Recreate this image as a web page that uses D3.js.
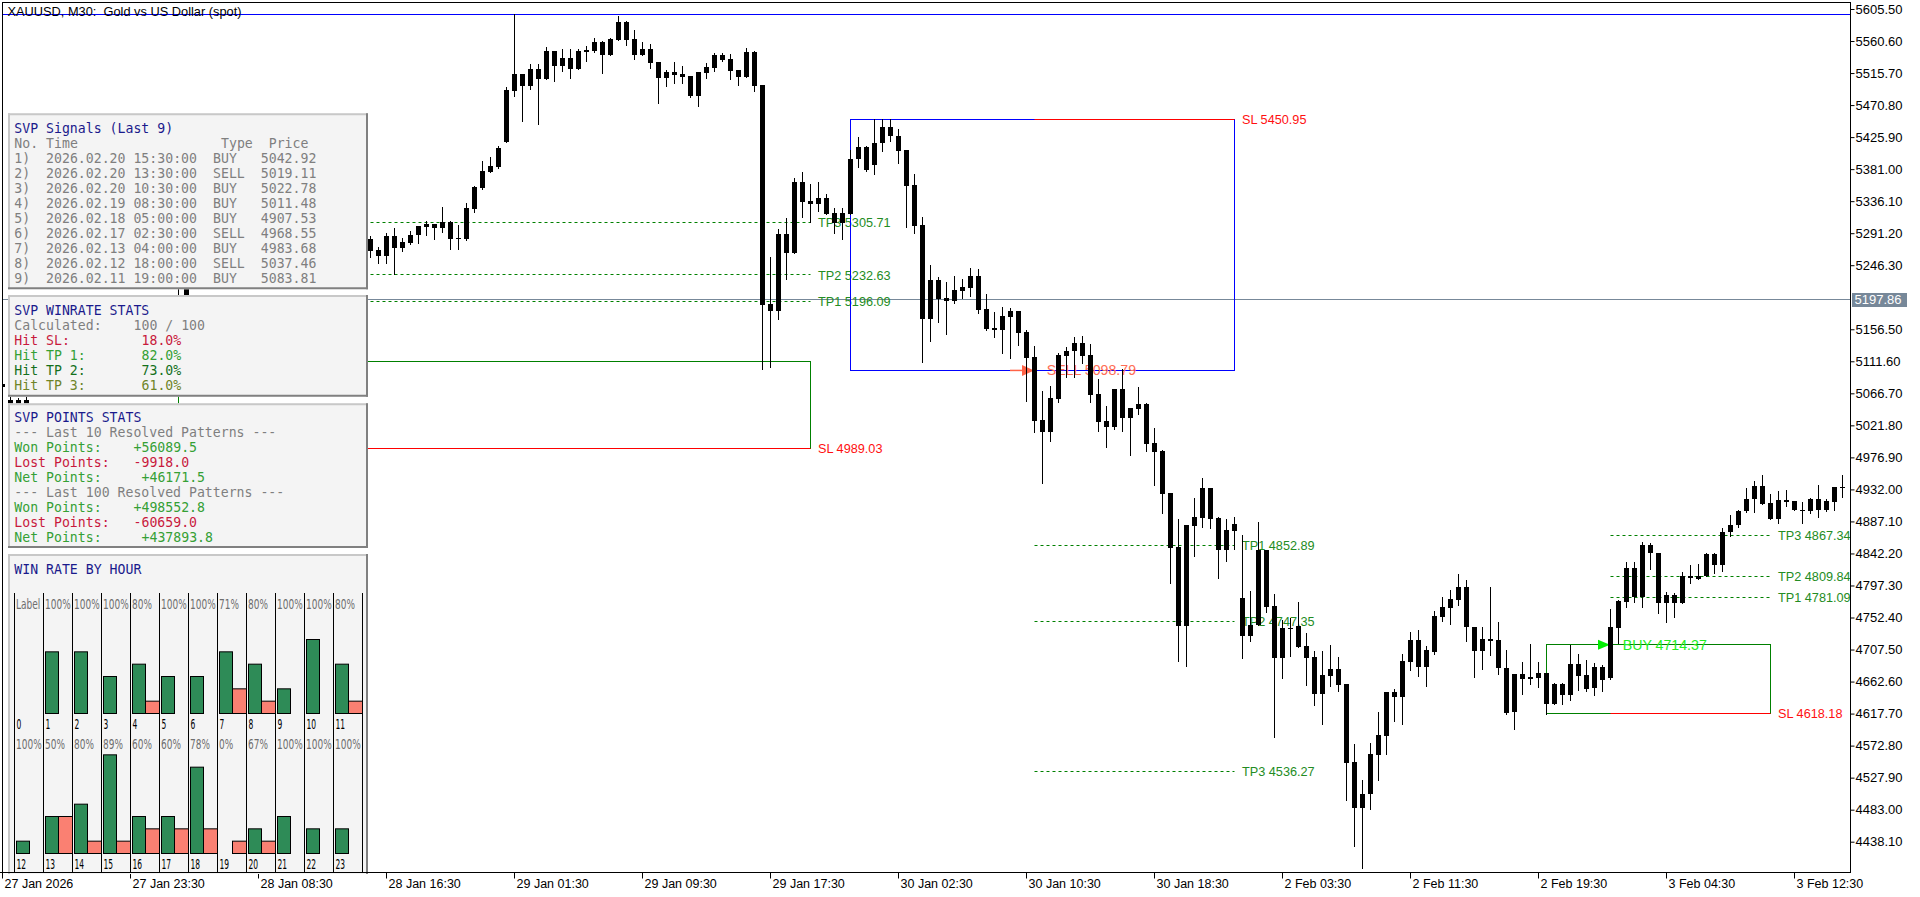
<!DOCTYPE html>
<html><head><meta charset="utf-8">
<script src="https://cdn.jsdelivr.net/npm/d3@7"></script>
<style>html,body{margin:0;padding:0;background:#fff;overflow:hidden}</style>
</head><body><svg id="c" width="1920" height="897" xmlns="http://www.w3.org/2000/svg"></svg>
<script>
// ---------------- DATA ----------------
const open=[5080,5058,5048,5058,5085,5096,5105,5112,5100,5110,
5126,5135,5142,5130,5140,5155,5165,5158,5168,5180,
5186,5190,5197,5205,5218,5230,5240,5236,5246,5258,
5252,5244,5254,5268,5262,5272,5284,5276,5268,5278,
5290,5282,5272,5280,5288,5276,5283.1,5267.6,5259.6,5287.3,
5270.0,5277.9,5288.2,5300.3,5304.1,5298.9,5306.5,5283.5,5283.1,5325.1,
5355.0,5377.4,5384.4,5419.5,5491.0,5514.4,5498.0,5521.4,5507.8,5546.6,
5526.0,5536.8,5521.0,5545.6,5546.6,5559.2,5541.4,5562.5,5587.3,5563.4,
5541.4,5549.0,5531.2,5509.2,5517.2,5514.4,5511.6,5483.5,5516.2,5522.8,
5541.0,5535.4,5520.0,5510.6,5545.2,5499.0,5191.9,5182.5,5290.1,5263.8,
5363.0,5336.3,5331.7,5340.5,5319.5,5305.9,5318.5,5395.2,5412.0,5386.4,
5417.2,5440.1,5427.5,5407.8,5358.8,5302.7,5171.3,5225.6,5200.3,5196.6,
5210.6,5214.8,5231.2,5184.9,5157.9,5155.9,5174.1,5182.1,5152.7,5118.0,
5029.7,5012.9,5059.2,5119.4,5126.0,5137.7,5120.4,5066.2,5028.3,5019.9,
5073.2,5032.5,5045.1,5051.7,4997.5,4986.3,4927.4,4851.7,4740.9,4881.1,
4892.3,4934.0,4891.9,4847.5,4874.1,4779.8,4726.9,4742.3,4847.5,4768.5,
4696.1,4738.1,4740.9,4712.9,4697.5,4645.6,4670.8,4680.6,4659.6,4550.3,
4485.8,4505.4,4560.1,4586.7,4648.4,4641.4,4690.4,4721.3,4683.4,4704.5,
4753.5,4766.2,4777.4,4795.6,4739.5,4705.9,4721.9,4721.3,4681.2,4619.9,
4672.8,4666.6,4668.0,4674.2,4631.6,4658.8,4644.2,4686.8,4671.4,4654.0,
4682.6,4668.0,4738.1,4773.7,4821.4,4780.7,4853.6,4842.4,4773.2,4783.5,
4773.2,4807.4,4810.2,4810.2,4841.0,4825.6,4871.9,4881.7,4901.3,4918.1,
4936.4,4912.5,4890.9,4916.7,4915.3,4902.7,4901.3,4918.1,4902.7,4913.9,
4934.9];
const high=[5086,5061,5060,5062,5100,5110,5118,5120,5115,5130,
5140,5148,5150,5145,5160,5170,5175,5172,5185,5192,
5198,5200,5215,5222,5235,5245,5252,5250,5262,5270,
5265,5258,5272,5280,5276,5290,5296,5288,5282,5294,
5302,5292,5286,5296,5298,5290,5287.3,5272.3,5291.0,5298.1,
5284.0,5294.3,5300.9,5308.7,5304.1,5327.5,5308.7,5302.3,5333.1,5357.4,
5392.0,5398.0,5413.4,5495.7,5598.0,5514.4,5528.4,5528.4,5552.2,5546.6,
5549.8,5549.0,5549.0,5553.6,5564.8,5561.1,5564.8,5595.7,5588.3,5576.1,
5559.2,5556.4,5531.2,5520.0,5531.2,5525.6,5511.6,5517.2,5529.8,5543.8,
5543.8,5542.4,5520.0,5550.8,5546.6,5499.0,5257.4,5297.1,5312.5,5368.6,
5377.0,5360.2,5363.0,5346.1,5326.5,5326.5,5407.8,5426.1,5413.4,5451.3,
5451.3,5451.3,5437.3,5407.8,5374.2,5313.9,5246.6,5229.8,5222.8,5231.2,
5227.0,5242.4,5241.0,5205.9,5180.7,5187.7,5186.3,5182.1,5155.5,5133.0,
5070.4,5077.4,5123.2,5131.6,5145.7,5147.1,5135.9,5087.2,5049.3,5073.2,
5101.2,5046.5,5075.6,5053.6,5018.5,4987.7,4927.4,4890.5,4882.1,4919.9,
4948.0,4934.0,4893.3,4890.5,4893.3,4868.1,4789.6,4886.3,4847.5,4785.4,
4748.9,4752.1,4774.1,4731.1,4705.9,4705.9,4713.4,4697.5,4659.6,4575.5,
4525.0,4576.9,4620.3,4648.4,4652.6,4701.7,4732.5,4735.3,4712.9,4761.9,
4781.6,4791.4,4813.4,4805.4,4739.5,4739.5,4795.6,4746.5,4706.9,4672.8,
4690.4,4715.7,4690.4,4674.2,4661.0,4661.0,4714.3,4701.7,4693.3,4689.0,
4686.2,4764.3,4776.5,4829.8,4829.8,4857.8,4856.4,4842.4,4787.7,4786.3,
4815.8,4825.6,4827.0,4842.4,4842.4,4877.5,4895.7,4902.7,4933.5,4943.4,
4952.6,4925.1,4929.3,4930.7,4915.3,4913.9,4919.5,4937.8,4918.1,4934.9,
4952.6];
const low=[5070,5040,5035,5045,5080,5090,5098,5095,5092,5105,
5118,5128,5125,5122,5136,5148,5150,5152,5160,5172,
5175,5178,5185,5200,5218,5222,5230,5228,5240,5248,
5238,5236,5250,5258,5252,5266,5270,5262,5256,5272,
5276,5266,5262,5274,5270,5262,5257.8,5249.0,5249.8,5233.6,
5266.6,5275.6,5277.0,5289.1,5282.6,5293.3,5268.6,5268.6,5281.7,5321.3,
5353.6,5377.4,5382.2,5419.5,5484.0,5448.9,5492.9,5444.3,5507.8,5505.0,
5519.0,5508.8,5521.0,5533.0,5544.8,5516.2,5541.4,5562.5,5555.5,5535.4,
5541.4,5523.2,5474.1,5497.6,5502.2,5502.2,5482.1,5469.5,5509.2,5518.6,
5533.0,5507.4,5499.0,5510.6,5491.0,5100.4,5104.0,5171.3,5227.4,5263.8,
5314.3,5306.9,5322.7,5318.5,5291.0,5282.6,5318.5,5383.6,5378.8,5373.8,
5406.8,5420.0,5390.0,5300.3,5291.0,5111.0,5140.5,5166.7,5150.3,5193.8,
5200.7,5203.1,5179.7,5155.9,5146.1,5123.6,5116.6,5134.0,5056.4,5012.9,
4940.6,5000.3,5055.0,5090.0,5090.0,5109.6,5055.0,5014.3,4991.9,5017.1,
5014.3,4980.7,5038.1,4986.3,4938.6,4899.3,4801.2,4691.8,4684.8,4839.1,
4879.7,4878.3,4808.2,4832.0,4848.9,4696.1,4719.9,4742.3,4760.5,4585.3,
4668.0,4698.9,4711.5,4658.2,4630.2,4603.5,4656.8,4649.8,4497.0,4432.5,
4401.6,4484.4,4525.0,4561.5,4607.7,4603.5,4679.2,4670.8,4656.8,4701.7,
4747.9,4743.7,4770.4,4719.9,4669.4,4680.6,4700.3,4673.6,4617.5,4596.5,
4645.6,4659.6,4655.4,4617.5,4631.6,4631.6,4637.2,4651.2,4649.8,4644.2,
4649.8,4666.6,4716.2,4766.7,4773.7,4766.7,4820.0,4758.3,4746.5,4752.7,
4773.2,4801.2,4806.0,4810.2,4814.4,4817.2,4866.3,4878.9,4899.9,4899.9,
4911.1,4890.9,4884.5,4908.3,4902.7,4884.5,4898.5,4892.9,4901.3,4902.7,
4920.9];
const close=[5076,5048,5058,5050,5096,5105,5112,5100,5110,5126,
5135,5142,5130,5140,5155,5165,5158,5168,5180,5186,
5190,5185,5192,5215,5230,5240,5236,5246,5258,5252,
5244,5254,5268,5262,5272,5284,5276,5268,5278,5290,
5282,5272,5280,5288,5276,5283,5266.6,5259.6,5287.3,5270.0,
5278.4,5288.7,5300.9,5304.1,5298.5,5306.5,5283.5,5284.5,5326.1,5356.0,
5378.4,5385.4,5410.6,5491.9,5514.4,5498.0,5521.4,5507.8,5546.6,5526.0,
5536.8,5521.8,5546.6,5548.0,5559.2,5541.4,5563.4,5587.3,5562.5,5541.4,
5549.0,5530.2,5509.2,5517.2,5513.4,5510.6,5483.5,5517.2,5524.2,5541.0,
5534.4,5519.0,5510.6,5545.2,5497.6,5190.5,5182.5,5290.1,5263.8,5363.0,
5335.3,5331.7,5340.5,5318.5,5305.9,5319.5,5395.2,5412.0,5379.8,5417.6,
5440.1,5427.0,5406.8,5357.8,5301.7,5171.3,5225.6,5199.4,5196.6,5211.6,
5215.8,5231.2,5183.9,5157.3,5155.9,5175.1,5182.1,5151.7,5116.6,5028.3,
5012.9,5060.1,5120.4,5126.0,5137.7,5119.4,5064.8,5026.9,5019.9,5073.2,
5032.5,5046.5,5051.7,4996.1,4984.9,4926.0,4850.3,4740.9,4882.1,4893.3,
4934.0,4890.9,4847.5,4875.1,4883.5,4726.9,4741.9,4847.5,4767.6,4696.1,
4738.1,4736.7,4711.5,4696.1,4645.6,4672.2,4680.6,4658.2,4548.9,4485.8,
4505.4,4561.5,4588.1,4648.4,4641.4,4691.8,4721.3,4683.4,4707.3,4754.9,
4767.6,4778.8,4795.6,4739.5,4705.9,4721.9,4719.9,4682.0,4618.9,4672.8,
4666.6,4668.6,4674.2,4631.6,4658.8,4644.2,4686.8,4670.8,4652.6,4682.6,
4665.2,4738.7,4775.1,4821.4,4780.7,4853.6,4842.4,4773.2,4783.5,4773.2,
4810.2,4810.2,4806.0,4841.0,4825.6,4871.9,4881.7,4901.7,4918.1,4936.4,
4911.1,4890.9,4916.7,4914.8,4902.7,4901.3,4918.1,4902.7,4915.3,4934.9,
4933.5];

const priceTicks=[5605.50,5560.60,5515.70,5470.80,5425.90,5381.00,5336.10,5291.20,5246.30,
5156.50,5111.60,5066.70,5021.80,4976.90,4932.00,4887.10,4842.20,4797.30,4752.40,4707.50,
4662.60,4617.70,4572.80,4527.90,4483.00,4438.10];
const timeTickBars=[0,16,32,48,64,80,96,112,128,144,160,176,192,208,224];
const timeLabels=["27 Jan 2026","27 Jan 23:30","28 Jan 08:30","28 Jan 16:30","29 Jan 01:30",
"29 Jan 09:30","29 Jan 17:30","30 Jan 02:30","30 Jan 10:30","30 Jan 18:30","2 Feb 03:30",
"2 Feb 11:30","2 Feb 19:30","3 Feb 04:30","3 Feb 12:30"];
const highLinePrice=5598.0;
const bidPrice=5197.86;

// signals drawn on chart
const sigType=["BUY","SELL","BUY"];
const sigBoxStart=[22,106,193];
const sigEntryBar=[22,129,201];
const sigEndBar=[101,154,221];
const sigEntry=[5112.00,5098.79,4714.37];
const sigSL=[4989.03,5450.95,4618.18];
const sigTP1=[5196.09,4852.89,4781.09];
const sigTP2=[5232.63,4747.35,4809.84];
const sigTP3=[5305.71,4536.27,4867.34];
const sigBoxColor=["#008000","#0000ff","#008000"];

// panel: signals list
const listNo=["1)","2)","3)","4)","5)","6)","7)","8)","9)"];
const listTime=["2026.02.20 15:30:00","2026.02.20 13:30:00","2026.02.20 10:30:00","2026.02.19 08:30:00",
"2026.02.18 05:00:00","2026.02.17 02:30:00","2026.02.13 04:00:00","2026.02.12 18:00:00","2026.02.11 19:00:00"];
const listType=["BUY","SELL","BUY","BUY","BUY","SELL","BUY","SELL","BUY"];
const listPrice=["5042.92","5019.11","5022.78","5011.48","4907.53","4968.55","4983.68","5037.46","5083.81"];

// panel: winrate
const wrLabels=["Calculated:","Hit SL:","Hit TP 1:","Hit TP 2:","Hit TP 3:"];
const wrValues=["100 / 100","18.0%","82.0%","73.0%","61.0%"];
const wrCol=[15,16,16,16,16];
const wrColors=["#7f7f7f","#c8193c","#35a035","#14701c","#6f8428"];

// panel: points
const ptLabels=["--- Last 10 Resolved Patterns ---","Won Points:","Lost Points:","Net Points:",
"--- Last 100 Resolved Patterns ---","Won Points:","Lost Points:","Net Points:"];
const ptValues=["","+56089.5","-9918.0","+46171.5","","+498552.8","-60659.0","+437893.8"];
const ptCol=[0,15,15,16,0,15,15,16];
const ptColors=["#7f7f7f","#35a035","#c8193c","#35a035","#7f7f7f","#35a035","#c8193c","#35a035"];

// panel: win rate by hour
const hours=d3.range(24);
const hourWins=[0,5,5,3,4,3,3,5,4,2,6,4, 1,3,4,8,3,3,7,0,2,3,2,2];
const hourLosses=[0,0,0,0,1,0,0,2,1,0,0,1, 0,3,1,1,2,2,2,1,1,0,0,0];
const hourPct=["Label","100%","100%","100%","80%","100%","100%","71%","80%","100%","100%","80%",
"100%","50%","80%","89%","60%","60%","78%","0%","67%","100%","100%","100%"];

// ---------------- DRAW ----------------
const svg=d3.select("#c");
svg.append("rect").attr("width",1920).attr("height",897).attr("fill","#fff");
const plot={l:2.5,t:2.5,r:1850.5,b:872.5};
const x=d3.scaleLinear().domain([0,230]).range([2,1842]);
const y=d3.scaleLinear().domain([4438.1,5605.5]).range([841.7,9]);
const px=i=>Math.round(x(i));
const ly=v=>Math.round(y(v)-0.5)+0.5;
const SANS="Liberation Sans, Arial, sans-serif";
const MONO="DejaVu Sans Mono, monospace";

svg.append("defs").append("clipPath").attr("id","pc").append("rect")
  .attr("x",plot.l).attr("y",plot.t).attr("width",plot.r-plot.l).attr("height",plot.b-plot.t);
const gMain=svg.append("g").attr("clip-path","url(#pc)");

// horizontal lines
gMain.append("line").attr("x1",plot.l).attr("x2",plot.r).attr("y1",ly(highLinePrice)).attr("y2",ly(highLinePrice))
  .attr("stroke","#0000ff").attr("stroke-width",1);
gMain.append("line").attr("x1",plot.l).attr("x2",plot.r).attr("y1",ly(bidPrice)).attr("y2",ly(bidPrice))
  .attr("stroke","#778899").attr("stroke-width",1);

// signal objects
const gS=gMain.append("g");
sigType.forEach((t,k)=>{
  const xs=px(sigBoxStart[k])+0.5, xe=px(sigEndBar[k])+0.5, xn=px(sigEntryBar[k])+0.5;
  const yE=ly(sigEntry[k]), yL=ly(sigSL[k]);
  gS.append("rect").attr("x",xs).attr("y",Math.min(yE,yL)).attr("width",xe-xs).attr("height",Math.abs(yE-yL))
    .attr("fill","none").attr("stroke",sigBoxColor[k]).attr("stroke-width",1);
  gS.append("line").attr("x1",xn).attr("x2",xe).attr("y1",yL).attr("y2",yL).attr("stroke","#ff0000");
  gS.append("text").attr("x",xe+7.5).attr("y",y(sigSL[k])+4.6).attr("font-family",SANS).attr("font-size",12.7)
    .attr("fill","#ff1010").text("SL "+sigSL[k].toFixed(2));
  [sigTP1[k],sigTP2[k],sigTP3[k]].forEach((tp,j)=>{
    gS.append("line").attr("x1",xn).attr("x2",xe).attr("y1",ly(tp)).attr("y2",ly(tp))
      .attr("stroke","#008000").attr("stroke-dasharray","3,3");
    gS.append("text").attr("x",xe+7.5).attr("y",y(tp)+4.6).attr("font-family",SANS).attr("font-size",12.7)
      .attr("fill","#238c23").text("TP"+(j+1)+" "+tp.toFixed(2));
  });
  const xt=px(sigEntryBar[k]);
  if(t==="SELL"){
    gS.append("line").attr("x1",xt-24).attr("x2",xt-11).attr("y1",y(sigEntry[k])).attr("y2",y(sigEntry[k]))
      .attr("stroke","#ff6347").attr("stroke-width",1.5);
    gS.append("path").attr("d",`M${xt},${y(sigEntry[k])} L${xt-12},${y(sigEntry[k])-5.5} L${xt-12},${y(sigEntry[k])+5.5} Z`)
      .attr("fill","#ff6347");
    gS.append("text").attr("x",xt+12.7).attr("y",y(sigEntry[k])+5).attr("font-family",SANS).attr("font-size",14.2)
      .attr("fill","#ff6e55").text("SELL "+sigEntry[k].toFixed(2));
  } else {
    gS.append("path").attr("d",`M${xt},${y(sigEntry[k])} L${xt-12},${y(sigEntry[k])-5} L${xt-12},${y(sigEntry[k])+5} Z`)
      .attr("fill","#00ee00");
    gS.append("text").attr("x",xt+12.7).attr("y",y(sigEntry[k])+5).attr("font-family",SANS).attr("font-size",14.2)
      .attr("fill","#22ee22").text("BUY "+sigEntry[k].toFixed(2));
  }
});

// candles
const idx=d3.range(close.length);
const gC=gMain.append("g");
gC.selectAll("line.w").data(idx).join("line").attr("class","w")
  .attr("x1",i=>px(i)+0.5).attr("x2",i=>px(i)+0.5)
  .attr("y1",i=>Math.round(y(high[i]))).attr("y2",i=>Math.round(y(low[i]))+1)
  .attr("stroke","#000").attr("stroke-width",1);
gC.selectAll("rect.b").data(idx).join("rect").attr("class","b")
  .attr("x",i=>px(i)-2).attr("width",5)
  .attr("y",i=>Math.round(y(Math.max(open[i],close[i]))))
  .attr("height",i=>Math.max(1,Math.round(y(Math.min(open[i],close[i])))-Math.round(y(Math.max(open[i],close[i])))))
  .attr("fill","#000");

// frame
svg.append("rect").attr("x",plot.l).attr("y",plot.t).attr("width",plot.r-plot.l).attr("height",plot.b-plot.t)
  .attr("fill","none").attr("stroke","#000").attr("stroke-width",1);

// right axis
const gy=svg.append("g").attr("transform",`translate(${plot.r},0)`)
  .call(d3.axisRight(y).tickValues(priceTicks).tickSize(4).tickPadding(1).tickFormat(d=>d.toFixed(2)));
gy.select(".domain").remove();
gy.selectAll("text").attr("font-family",SANS).attr("font-size",13).attr("fill","#000");
gy.selectAll("line").attr("stroke","#000");

// bottom axis
const gx=svg.append("g").attr("transform",`translate(0,${plot.b})`)
  .call(d3.axisBottom(x).tickValues(timeTickBars).tickSize(6).tickPadding(1).tickFormat((d,i)=>timeLabels[i]));
gx.select(".domain").remove();
gx.selectAll("text").attr("font-family",SANS).attr("font-size",12.5).attr("fill","#000")
  .attr("text-anchor","start").attr("x",2);
gx.selectAll("line").attr("stroke","#000");

// bid label
svg.append("rect").attr("x",plot.r+1.5).attr("y",Math.round(y(bidPrice))-7).attr("width",55).attr("height",14).attr("fill","#778899");
svg.append("text").attr("x",plot.r+4).attr("y",y(bidPrice)+4.7).attr("font-family",SANS).attr("font-size",13)
  .attr("fill","#fff").text(bidPrice.toFixed(2));

// chart title
svg.append("text").attr("x",7.5).attr("y",15.5).attr("font-family",SANS).attr("font-size",12.8)
  .attr("fill","#000").style("white-space","pre").text("XAUUSD, M30:  Gold vs US Dollar (spot)");

// ---------------- PANELS ----------------
const CW=7.95, TX=14.3;
function panel(y0,y1,noBottom){
  const g=svg.append("g");
  g.append("rect").attr("x",8).attr("y",y0).attr("width",360).attr("height",y1-y0).attr("fill","#f4f4f4");
  g.append("line").attr("x1",8).attr("x2",368).attr("y1",y0+1).attr("y2",y0+1).attr("stroke","#c8c8c8").attr("stroke-width",2);
  g.append("line").attr("x1",9).attr("x2",9).attr("y1",y0).attr("y2",y1).attr("stroke","#c8c8c8").attr("stroke-width",2);
  g.append("line").attr("x1",367).attr("x2",367).attr("y1",y0).attr("y2",y1).attr("stroke","#808080").attr("stroke-width",2);
  if(!noBottom) g.append("line").attr("x1",8).attr("x2",368).attr("y1",y1-1).attr("y2",y1-1).attr("stroke","#808080").attr("stroke-width",2);
  return g;
}
function mono(g,col,yb,str,fill){
  g.append("text").attr("x",TX+col*CW).attr("y",yb).attr("font-family",MONO).attr("font-size",13.2)
    .attr("fill",fill).style("white-space","pre").text(str);
}
const NAVY="#1a1a8c", GREY="#7f7f7f";

// panel 1
const p1=panel(113.3,289.3);
mono(p1,0,133,"SVP Signals (Last 9)",NAVY);
mono(p1,0,148,"No.",GREY); mono(p1,4,148,"Time",GREY); mono(p1,26,148,"Type",GREY); mono(p1,32,148,"Price",GREY);
listNo.forEach((n,k)=>{
  const yb=163+15*k;
  mono(p1,0,yb,n,GREY); mono(p1,4,yb,listTime[k],GREY); mono(p1,25,yb,listType[k],GREY); mono(p1,31,yb,listPrice[k],GREY);
});

// panel 2
const p2=panel(295,396.7);
mono(p2,0,314.7,"SVP WINRATE STATS",NAVY);
wrLabels.forEach((l,k)=>{
  const yb=329.7+15*k;
  mono(p2,0,yb,l,wrColors[k]); mono(p2,wrCol[k],yb,wrValues[k],wrColors[k]);
});

// panel 3
const p3=panel(403.3,548);
mono(p3,0,421.7,"SVP POINTS STATS",NAVY);
ptLabels.forEach((l,k)=>{
  const yb=436.8+15*k;
  mono(p3,0,yb,l,ptColors[k]);
  if(ptValues[k]) mono(p3,ptCol[k],yb,ptValues[k],ptColors[k]);
});

// panel 4
const p4=panel(554,874,true);
mono(p4,0,573.7,"WIN RATE BY HOUR",NAVY);
const colX=d3.scaleLinear().domain([0,12]).range([14.5,362.5]);
const barH=d3.scaleLinear().domain([0,9]).range([0,111]);
const rowBase=[713.5,853.5], rowPctY=[609.3,749.3], rowHourY=[729,869];
function narrow(g,xx,yy,str,fill,size,sx){
  g.append("text").attr("transform",`translate(${xx},${yy}) scale(${sx},1)`)
    .attr("font-family","DejaVu Sans Condensed, DejaVu Sans, sans-serif").attr("font-size",size)
    .attr("fill",fill).text(str);
}
d3.range(13).forEach(c=>{
  p4.append("line").attr("x1",colX(c)).attr("x2",colX(c)).attr("y1",593).attr("y2",873).attr("stroke","#000");
});
hours.forEach(h=>{
  const r=Math.floor(h/12), c=h%12, cx=colX(c);
  if(hourWins[h]>0) p4.append("rect").attr("x",cx+2).attr("width",13)
    .attr("y",rowBase[r]-barH(hourWins[h])).attr("height",barH(hourWins[h]))
    .attr("fill","#2e8b57").attr("stroke","#000");
  if(hourLosses[h]>0) p4.append("rect").attr("x",cx+15).attr("width",14)
    .attr("y",rowBase[r]-barH(hourLosses[h])).attr("height",barH(hourLosses[h]))
    .attr("fill","#fa8072").attr("stroke","#000");
  narrow(p4,cx+1.5,rowPctY[r],hourPct[h],"#6e6e6e",13.5,0.74);
  narrow(p4,cx+2,rowHourY[r],String(h),"#000",14,0.6);
});
// frame bottom line over panel 4
svg.append("line").attr("x1",0).attr("x2",plot.r).attr("y1",plot.b).attr("y2",plot.b).attr("stroke","#000");
svg.append("line").attr("x1",plot.l).attr("x2",plot.l).attr("y1",plot.t).attr("y2",plot.b).attr("stroke","#000");
</script>
</body></html>
